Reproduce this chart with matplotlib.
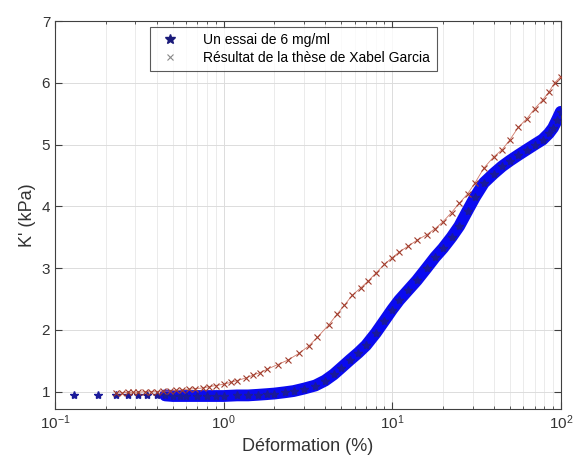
import numpy as np
import matplotlib
matplotlib.use("Agg")
import matplotlib.pyplot as plt
from matplotlib.lines import Line2D

# one 6 mg/ml test
essai_x = [0.13, 0.18, 0.23, 0.27, 0.31, 0.35, 0.4, 0.45, 0.5, 0.55, 0.6, 0.7, 0.8, 0.9,
           1.0, 1.2, 1.4, 1.6, 1.8, 2.0, 2.3, 2.6, 3.0, 3.5, 4.0, 4.5, 5.0, 5.6, 6.3, 7.0,
           8.0, 9.0, 10, 11, 12.5, 14, 16, 18, 20, 22.5, 25, 28, 31, 35, 40, 45, 50,
           56, 63, 70, 78, 85, 90, 95, 100]
essai_y = [0.95, 0.95, 0.95, 0.95, 0.94, 0.94, 0.94, 0.94, 0.93, 0.93, 0.93, 0.93, 0.93, 0.93,
           0.93, 0.94, 0.94, 0.95, 0.96, 0.97, 0.99, 1.01, 1.05, 1.10, 1.18, 1.28, 1.39, 1.51, 1.63, 1.75,
           1.95, 2.15, 2.33, 2.48, 2.65, 2.80, 3.00, 3.18, 3.32, 3.50, 3.68, 3.93, 4.15, 4.38, 4.53, 4.65, 4.74,
           4.83, 4.92, 5.00, 5.08, 5.18, 5.27, 5.40, 5.53]

# thesis result (Xabel Garcia)
these_x = [0.23, 0.25, 0.27, 0.29, 0.31, 0.34, 0.37, 0.40, 0.44, 0.48, 0.52, 0.57, 0.62, 0.68,
           0.75, 0.82, 0.9, 1.0, 1.1, 1.2, 1.35, 1.5, 1.65, 1.8, 2.1, 2.4, 2.8, 3.2, 3.6, 4.2,
           4.7, 5.2, 5.8, 6.5, 7.2, 8.0, 9.0, 10, 11, 12.5, 14, 16, 18, 20, 22.5, 25, 28,
           31, 35, 40, 45, 50, 56, 63, 70, 78, 85, 92, 100]
these_y = [0.98, 0.98, 0.99, 0.99, 0.99, 1.00, 1.00, 1.00, 1.01, 1.01, 1.02, 1.03, 1.04, 1.05,
           1.06, 1.08, 1.10, 1.12, 1.15, 1.18, 1.22, 1.27, 1.31, 1.36, 1.44, 1.51, 1.62, 1.74, 1.88, 2.08,
           2.25, 2.40, 2.56, 2.68, 2.79, 2.92, 3.06, 3.17, 3.26, 3.36, 3.45, 3.54, 3.64, 3.75, 3.90, 4.05, 4.20,
           4.38, 4.62, 4.80, 4.92, 5.08, 5.28, 5.42, 5.58, 5.72, 5.85, 6.00, 6.10]

lbl_essai = "Un essai de 6 mg/ml"
lbl_these = "Résultat de la thèse de Xabel Garcia"

plt.rcParams['font.family'] = ['Liberation Sans', 'DejaVu Sans']

fig = plt.figure(figsize=(5.76, 4.72), dpi=100)
ax = fig.add_axes([0.0955, 0.1335, 0.878, 0.822])

ex = np.array(essai_x)
ey = np.array(essai_y)
dense = ex >= 0.45
ax.plot(ex[dense], ey[dense], '-', color='#0a0af0', lw=8.5, solid_capstyle='round', zorder=3)
ax.plot(ex, ey, '*', color='#1a1a9a', ms=6, zorder=4)
ax.plot(these_x, these_y, '-x', color='#d07a6a', mec='#a03c2c', lw=0.6, ms=4, mew=0.8, zorder=5)

ax.set_xscale('log')
ax.set_xlim(0.1, 100)
ax.set_ylim(0.72, 7)
ax.set_yticks([1, 2, 3, 4, 5, 6, 7])

ax.grid(True, which='major', color='#dcdcdc', lw=0.7)
ax.grid(True, which='minor', axis='x', color='#e8e8e8', lw=0.6)
ax.set_axisbelow(True)

ax.tick_params(which='both', direction='in', top=True, right=True, colors='#404040',
               labelcolor='#333333', labelsize=11)
ax.tick_params(which='major', length=5)
ax.tick_params(which='minor', length=2.5)
for s in ax.spines.values():
    s.set_color('#404040')
    s.set_linewidth(0.8)

ax.set_xlabel("Déformation (%)", fontsize=13, color='#333333')
ax.set_ylabel("K' (kPa)", fontsize=13, color='#333333')

handles = [Line2D([], [], ls='none', marker='*', color='#1a1a7a', ms=7),
           Line2D([], [], ls='none', marker='x', color='#888888', ms=4, mew=0.8)]
leg = ax.legend(handles, [lbl_essai, lbl_these], loc='upper center', bbox_to_anchor=(0.471, 0.985),
                borderaxespad=0, fontsize=10, frameon=True, fancybox=False, edgecolor='#303030',
                borderpad=0.45, handletextpad=1.4, labelspacing=0.3)
leg.get_frame().set_linewidth(0.8)

fig.savefig("out.png", dpi=100)
